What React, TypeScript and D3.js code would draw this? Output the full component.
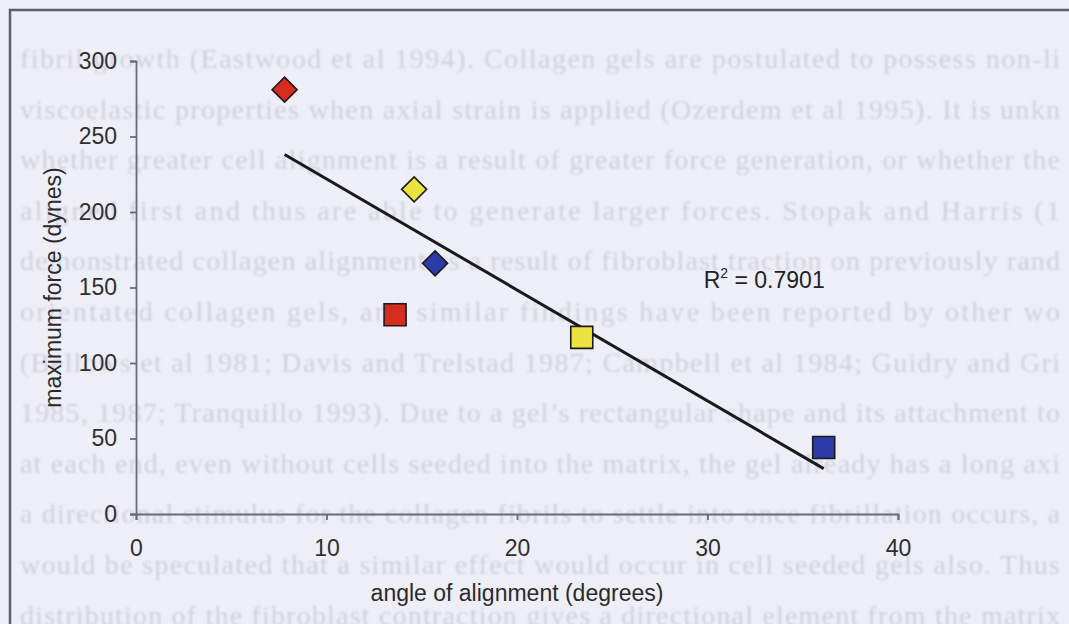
import { useEffect, useRef } from 'react';
import * as d3 from 'd3';

// angle of alignment (degrees) vs maximum force (dynes)
const angle = [7.8, 14.6, 15.7, 13.6, 23.4, 36.1];
const force = [281, 215, 166, 132, 117, 44];
const shape = ['diamond', 'diamond', 'diamond', 'square', 'square', 'square'];
const fill = ['#d62b1f', '#ebe340', '#2b3ca8', '#d62b1f', '#ebe340', '#2b3ca8'];

const xTicks = [0, 10, 20, 30, 40];
const yTicks = [0, 50, 100, 150, 200, 250, 300];
const rSquared = '0.7901';

// faint page text showing through the scan (as far as it is visible)
const pageLines = [
  'fibril growth (Eastwood et al 1994).  Collagen gels are postulated to possess non-li',
  'viscoelastic properties when axial strain is applied (Ozerdem et al 1995).  It is unkn',
  'whether greater cell alignment is a result of greater force generation, or whether the',
  'aligned first and thus are able to generate larger forces.   Stopak and Harris (1',
  'demonstrated collagen alignment as a result of fibroblast traction on previously rand',
  'orientated collagen gels, and similar findings have been reported by other wo',
  '(Bellows et al 1981; Davis and Trelstad 1987; Campbell et al 1984; Guidry and Gri',
  '1985, 1987; Tranquillo 1993).  Due to a gel\u2019s rectangular shape and its attachment to',
  'at each end, even without cells seeded into the matrix, the gel already has a long axi',
  'a directional stimulus for the collagen fibrils to settle into once fibrillation occurs, a',
  'would be speculated that a similar effect would occur in cell seeded gels also.  Thus',
  'distribution of the fibroblast contraction gives a directional element from the matrix',
];

export default function App() {
  const svgRef = useRef<SVGSVGElement>(null);

  useEffect(() => {
    if (!svgRef.current) return;
    const svg = d3.select(svgRef.current);
    svg.selectAll('*').remove();

    const W = 1069;
    const H = 624;
    const font = '"Liberation Sans", Arial, sans-serif';

    svg.append('rect').attr('width', W).attr('height', H).attr('fill', '#eeeff6');

    // background page text, justified up to the right edge
    const defs = svg.append('defs');
    defs.append('filter').attr('id', 'soft')
      .append('feGaussianBlur').attr('stdDeviation', 0.9);

    svg.append('g')
      .attr('filter', 'url(#soft)')
      .selectAll('text')
      .data(pageLines)
      .enter().append('text')
      .attr('x', 20)
      .attr('y', (d, i) => 68 + i * 50.6)
      .attr('font-family', '"Liberation Serif", "Times New Roman", serif')
      .attr('font-size', 28)
      .attr('textLength', 1040)
      .attr('lengthAdjust', 'spacing')
      .attr('fill', '#cfd0dc')
      .text(d => d);

    // frame (left and top edge of the chart box)
    svg.append('path')
      .attr('d', `M10,${H} L10,10 L${W},10`)
      .attr('fill', 'none')
      .attr('stroke', '#5e5e66')
      .attr('stroke-width', 2.5);

    const x = d3.scaleLinear().domain([0, 40]).range([136, 898]);
    const y = d3.scaleLinear().domain([0, 300]).range([514, 61]);

    // axes
    const xAxis = svg.append('g')
      .attr('transform', `translate(0,${y(0)})`)
      .call(d3.axisBottom(x).tickValues(xTicks).tickSize(6).tickPadding(20));
    const yAxis = svg.append('g')
      .attr('transform', `translate(${x(0)},0)`)
      .call(d3.axisLeft(y).tickValues(yTicks).tickSize(6).tickPadding(13));

    [xAxis, yAxis].forEach(a => {
      a.selectAll('path, line').attr('stroke', '#6a6a72').attr('stroke-width', 1.8);
      a.selectAll('text')
        .attr('font-family', font)
        .attr('font-size', 23)
        .attr('fill', '#2e2e33');
    });

    // axis titles
    svg.append('text')
      .attr('x', (x(0) + x(40)) / 2)
      .attr('y', 601)
      .attr('text-anchor', 'middle')
      .attr('font-family', font)
      .attr('font-size', 23)
      .attr('fill', '#2a2a2e')
      .text('angle of alignment (degrees)');

    svg.append('text')
      .attr('transform', `translate(61,${(y(0) + y(300)) / 2}) rotate(-90)`)
      .attr('text-anchor', 'middle')
      .attr('font-family', font)
      .attr('font-size', 23)
      .attr('fill', '#2a2a2e')
      .text('maximum force (dynes)');

    // linear trendline (least squares on the points)
    const mx = d3.mean(angle) as number;
    const my = d3.mean(force) as number;
    const sxy = d3.sum(angle, (a, i) => (a - mx) * (force[i] - my));
    const sxx = d3.sum(angle, a => (a - mx) * (a - mx));
    const slope = sxy / sxx;
    const icpt = my - slope * mx;
    const [x0, x1] = d3.extent(angle) as [number, number];

    svg.append('line')
      .attr('x1', x(x0)).attr('y1', y(icpt + slope * x0))
      .attr('x2', x(x1)).attr('y2', y(icpt + slope * x1))
      .attr('stroke', '#1a1a1e')
      .attr('stroke-width', 3);

    // points
    const pts = angle.map((a, i) => ({ a, f: force[i], s: shape[i], c: fill[i] }));
    svg.append('g')
      .selectAll('path')
      .data(pts)
      .enter().append('path')
      .attr('transform', d => `translate(${x(d.a)},${y(d.f)})`)
      .attr('d', d => d.s === 'diamond'
        ? 'M0,-12.5 L12.5,0 L0,12.5 L-12.5,0 Z'
        : 'M-11,-11 H11 V11 H-11 Z')
      .attr('fill', d => d.c)
      .attr('stroke', '#1b1b1f')
      .attr('stroke-width', 1.6);

    // R² label
    const r2 = svg.append('text')
      .attr('x', x(29.8))
      .attr('y', y(150))
      .attr('font-family', font)
      .attr('font-size', 23)
      .attr('fill', '#222226');
    r2.append('tspan').text('R');
    r2.append('tspan').attr('font-size', 14).attr('dy', -10).text('2');
    r2.append('tspan').attr('dy', 10).text(` = ${rSquared}`);
  }, []);

  return (
    <div style={{ position: 'fixed', left: 0, top: 0 }}>
      <svg ref={svgRef} width={1069} height={624} style={{ display: 'block' }} />
    </div>
  );
}
